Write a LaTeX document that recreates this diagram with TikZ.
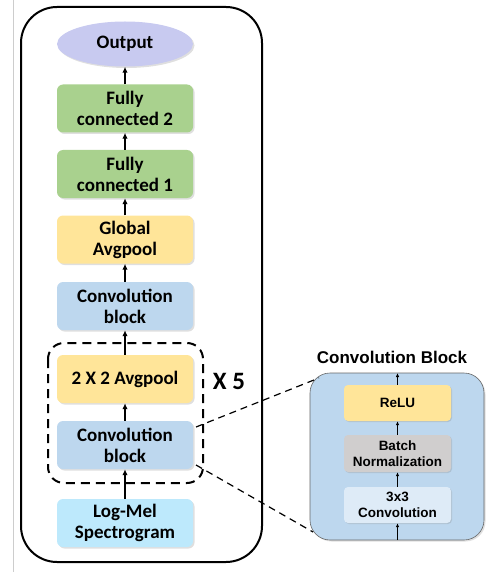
\documentclass[tikz,border=0pt]{standalone}
\usepackage{fontspec}
\setmainfont{Carlito}
\newfontfamily\arialfont{Liberation Sans}
\usetikzlibrary{arrows.meta,shapes.geometric,shadows}
\definecolor{outcol}{RGB}{200,202,240}
\definecolor{fccol}{RGB}{169,209,142}
\definecolor{poolcol}{RGB}{255,229,153}
\definecolor{convcol}{RGB}{189,215,238}
\definecolor{melcol}{RGB}{189,233,252}
\definecolor{batchcol}{RGB}{208,206,206}
\definecolor{kercol}{RGB}{222,235,247}
\definecolor{pagegray}{RGB}{205,205,205}

\tikzset{
  layer/.style={rounded corners=6pt, minimum width=136pt, minimum height=48pt,
    inner sep=0pt, align=center, font=\fontsize{19}{21}\selectfont\bfseries,
    drop shadow={opacity=0.25, shadow xshift=1.5pt, shadow yshift=-1.5pt}},
  sublayer/.style={rounded corners=4pt, minimum width=107pt, minimum height=36pt,
    inner sep=0pt, align=center, font=\arialfont\fontsize{13.5}{16}\selectfont\bfseries,
    drop shadow={opacity=0.25, shadow xshift=1pt, shadow yshift=-1pt}},
  flow/.style={-{Latex[length=6pt,width=5.5pt]}, line width=1.8pt},
  subflow/.style={-{Latex[length=4pt,width=3.5pt]}, line width=1pt},
  zoomline/.style={line width=1.2pt, dash pattern=on 7pt off 5pt},
}

\begin{document}
\begin{tikzpicture}[x=1pt,y=-1pt]
        \useasboundingbox (0,0) rectangle (490,572);

        % page edge
        \draw[pagegray, line width=1pt] (13.5,0) -- (13.5,572);

        % Network frame
        \draw[line width=2pt, rounded corners=36pt] (21,7) rectangle (262,562);

        % Layers
        \node[ellipse, fill=outcol, minimum width=136pt, minimum height=45pt, inner sep=0pt,
          font=\fontsize{19}{21}\selectfont\bfseries,
          drop shadow={opacity=0.25, shadow xshift=1.5pt, shadow yshift=-1.5pt}] (out) at (125,44) {Output};
        \node[layer, fill=fccol] (fc2) at (125,108.5) {Fully\\connected 2};
        \node[layer, fill=fccol] (fc1) at (125,174) {Fully\\connected 1};
        \node[layer, fill=poolcol] (gap) at (125,239.5) {Global\\Avgpool};
        \node[layer, fill=convcol] (conv) at (125,306) {Convolution\\block};
        \node[layer, fill=poolcol] (pool) at (125,379) {2 X 2 Avgpool};
        \node[layer, fill=convcol] (convb) at (125,445) {Convolution\\block};
        \node[layer, fill=melcol] (mel) at (125,523) {Log-Mel\\Spectrogram};

        % Repeated part
        \draw[line width=2pt, dash pattern=on 9pt off 6pt, rounded corners=16pt] (48,343) rectangle (203,483);
        \node[font=\fontsize{25}{27}\selectfont\bfseries] (rep) at (229,381) {X 5};

        % Forward pass
        \draw[flow] (mel) -- (convb);
        \draw[flow] (convb) -- (pool);
        \draw[flow] (pool) -- (conv);
        \draw[flow] (conv) -- (gap);
        \draw[flow] (gap) -- (fc1);
        \draw[flow] (fc1) -- (fc2);
        \draw[flow] (fc2) -- (out);

        % Convolution block detail
        \node[font=\arialfont\fontsize{17}{20}\selectfont\bfseries] (title) at (392,357) {Convolution Block};
        \node[draw=black!60, line width=0.6pt, fill=convcol, rounded corners=20pt,
          minimum width=174pt, minimum height=167pt, inner sep=0pt,
          drop shadow={opacity=0.25, shadow xshift=1.5pt, shadow yshift=-1.5pt}] (cblk) at (397,456.5) {};
        \node[sublayer, fill=poolcol] (relu) at (397.5,403) {ReLU};
        \node[sublayer, fill=batchcol, minimum height=37pt] (bn) at (397.5,453.5) {Batch\\Normalization};
        \node[sublayer, fill=kercol] (ker) at (397.5,505) {3x3\\Convolution};

        \coordinate (cin) at (397.5,540);
        \coordinate (cout) at (397.5,373);
        \draw[subflow] (cin) -- (ker);
        \draw[subflow] (ker) -- (bn);
        \draw[subflow] (bn) -- (relu);
        \draw[subflow] (relu) -- (cout);

        % Zoom lines
        \coordinate (za) at (196,427);
        \coordinate (zb) at (196,465);
        \coordinate (zc) at (319,378);
        \coordinate (zd) at (313,532);
        \draw[zoomline] (za) -- (zc);
        \draw[zoomline] (zb) -- (zd);
\end{tikzpicture}
\end{document}
